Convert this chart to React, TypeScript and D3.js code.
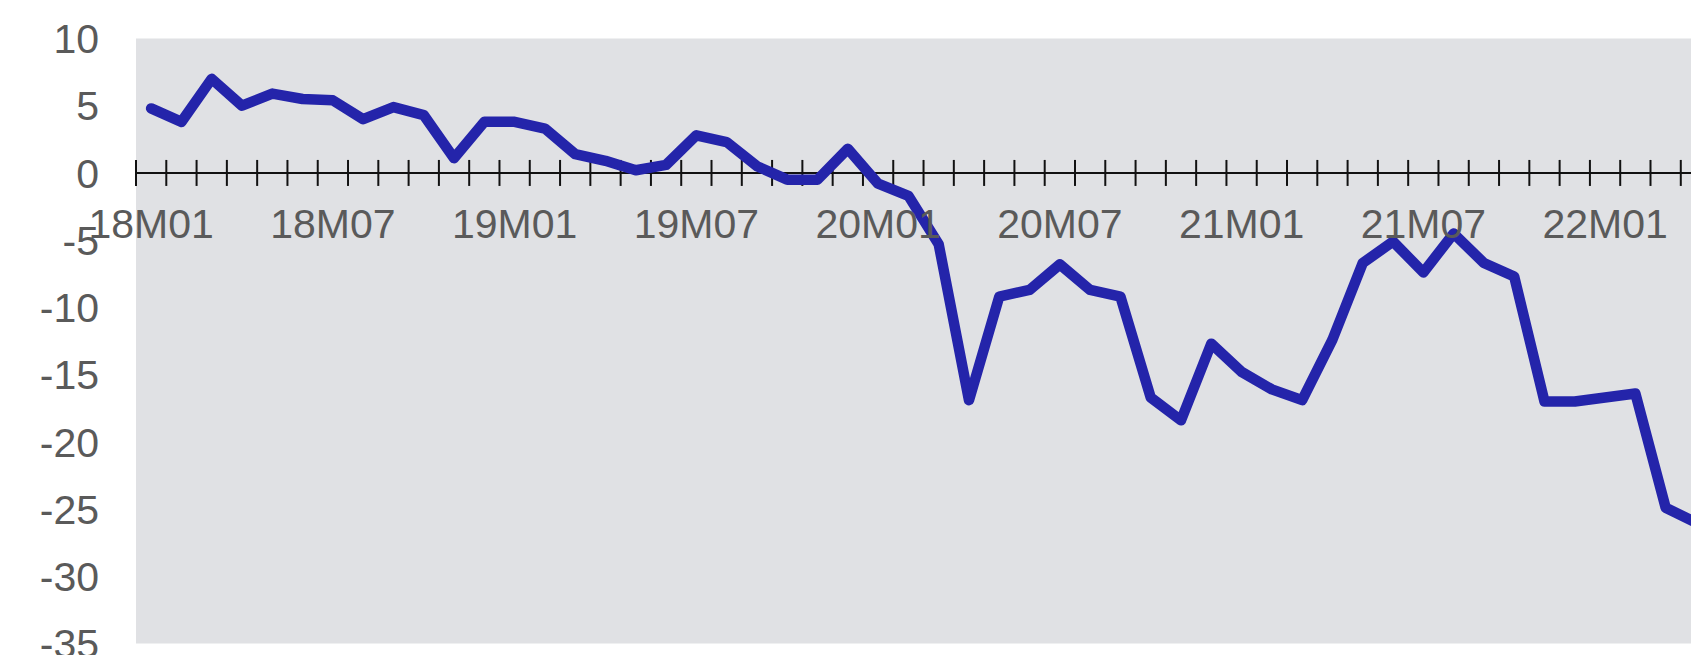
import React, {useEffect, useRef} from 'react';
import * as d3 from 'd3';

const months = [
    '18M01', '18M02', '18M03', '18M04', '18M05', '18M06', '18M07', '18M08', '18M09', '18M10', '18M11', '18M12',
    '19M01', '19M02', '19M03', '19M04', '19M05', '19M06', '19M07', '19M08', '19M09', '19M10', '19M11', '19M12',
    '20M01', '20M02', '20M03', '20M04', '20M05', '20M06', '20M07', '20M08', '20M09', '20M10', '20M11', '20M12',
    '21M01', '21M02', '21M03', '21M04', '21M05', '21M06', '21M07', '21M08', '21M09', '21M10', '21M11', '21M12',
    '22M01', '22M02', '22M03', '22M04'
];

const values = [
    4.8, 3.8, 7.0, 5.0, 5.9, 5.5, 5.4, 4.0, 4.9, 4.3, 1.1, 3.8,
    3.8, 3.3, 1.4, 0.9, 0.2, 0.6, 2.8, 2.3, 0.5, -0.5, -0.5, 1.8,
    -0.8, -1.7, -5.3, -16.9, -9.2, -8.7, -6.8, -8.7, -9.2, -16.7, -18.4, -12.7,
    -14.8, -16.1, -16.9, -12.4, -6.7, -5.1, -7.4, -4.5, -6.7, -7.7, -17.0, -17.0,
    -16.7, -16.4, -24.9, -26.0
];

const xTickLabels = ['18M01', '18M07', '19M01', '19M07', '20M01', '20M07', '21M01', '21M07', '22M01'];
const yDomain = [-35, 10];

const W = 1691;
const H = 655;

export default function App() {
    const ref = useRef<SVGSVGElement>(null);

    useEffect(() => {
        drawChart();
    }, []);

    function drawChart() {
        const svg = d3.select(ref.current);
        svg.selectAll('*').remove();

        const left = 136;
        const band = 30.29;
        const top = 38.5;
        const bottom = 643.5;

        const x = d3.scaleBand()
            .domain(months)
            .range([left, left + band * months.length])
            .padding(0);

        const y = d3.scaleLinear()
            .domain(yDomain)
            .range([bottom, top]);

        const font = '"Liberation Sans", Arial, sans-serif';
        const grey = '#5a5a5a';

        // plot background
        svg.append('rect')
            .attr('x', left)
            .attr('y', top)
            .attr('width', W - left)
            .attr('height', bottom - top)
            .attr('fill', '#e0e1e4');

        // y labels
        svg.append('g')
            .selectAll('text')
            .data(y.ticks(10))
            .enter()
            .append('text')
            .attr('x', 99)
            .attr('y', (d) => y(d))
            .attr('dy', '0.36em')
            .attr('text-anchor', 'end')
            .style('font-family', font)
            .style('font-size', '41px')
            .style('fill', grey)
            .text((d) => d);

        // zero axis with month ticks at band edges
        const y0 = y(0);
        const axis = svg.append('g');
        axis.append('line')
            .attr('x1', left)
            .attr('x2', W)
            .attr('y1', y0)
            .attr('y2', y0)
            .attr('stroke', '#111')
            .attr('stroke-width', 2);

        const edges = months.map((m) => x(m) as number).concat([left + band * months.length]);
        axis.selectAll('line.tick')
            .data(edges)
            .enter()
            .append('line')
            .attr('class', 'tick')
            .attr('x1', (d) => d)
            .attr('x2', (d) => d)
            .attr('y1', y0 - 13)
            .attr('y2', y0 + 13)
            .attr('stroke', '#111')
            .attr('stroke-width', 2);

        // series line
        const line = d3.line<number>()
            .x((_, i) => (x(months[i]) as number) + x.bandwidth() / 2)
            .y((d) => y(d));

        svg.append('path')
            .datum(values)
            .attr('d', line)
            .attr('fill', 'none')
            .attr('stroke', '#2424aa')
            .attr('stroke-width', 10.5)
            .attr('stroke-linejoin', 'round')
            .attr('stroke-linecap', 'round');

        // x labels
        svg.append('g')
            .selectAll('text')
            .data(xTickLabels)
            .enter()
            .append('text')
            .attr('x', (d) => (x(d) as number) + x.bandwidth() / 2)
            .attr('y', 238)
            .attr('text-anchor', 'middle')
            .style('font-family', font)
            .style('font-size', '41px')
            .style('fill', grey)
            .text((d) => d);
    }

    return (
        <svg
            ref={ref}
            width={W}
            height={H}
            style={{position: 'absolute', left: 0, top: 0, background: '#fff'}}
        />
    );
}
